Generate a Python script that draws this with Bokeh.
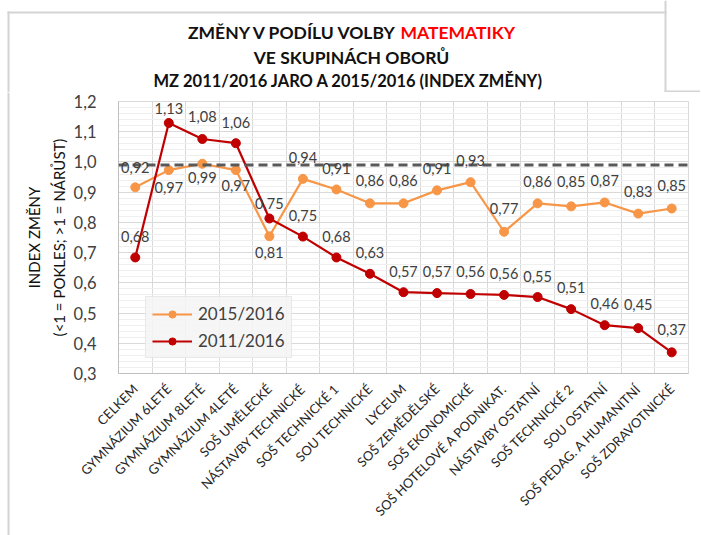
import math
from bokeh.plotting import figure
from bokeh.layouts import column, row
from bokeh.models import (ColumnDataSource, Range1d, FixedTicker, CustomJSTickFormatter,
                          Span, Label, LabelSet, Legend, LegendItem, BoxAnnotation)
from bokeh.core.properties import value
from bokeh.embed import file_html
from bokeh.resources import INLINE

# ---------------- data ----------------
categories = ["CELKEM", "GYMNÁZIUM 6LETÉ", "GYMNÁZIUM 8LETÉ", "GYMNÁZIUM 4LETÉ",
              "SOŠ UMĚLECKÉ", "NÁSTAVBY TECHNICKÉ", "SOŠ TECHNICKÉ 1", "SOU TECHNICKÉ",
              "LYCEUM", "SOŠ ZEMĚDĚLSKÉ", "SOŠ EKONOMICKÉ", "SOŠ HOTELOVÉ A PODNIKAT.",
              "NÁSTAVBY OSTATNÍ", "SOŠ TECHNICKÉ 2", "SOU OSTATNÍ", "SOŠ PEDAG. A HUMANITNÍ",
              "SOŠ ZDRAVOTNICKÉ"]
index_2015_2016 = [0.916, 0.973, 0.994, 0.973, 0.754, 0.944, 0.909, 0.863, 0.863,
                   0.906, 0.933, 0.769, 0.863, 0.853, 0.866, 0.829, 0.846]
index_2011_2016 = [0.684, 1.129, 1.076, 1.062, 0.813, 0.753, 0.684, 0.630, 0.569,
                   0.566, 0.563, 0.560, 0.553, 0.513, 0.460, 0.450, 0.370]
series_names = ["2015/2016", "2011/2016"]
reference_level = 0.99
y_ticks = [0.3, 0.4, 0.5, 0.6, 0.7, 0.8, 0.9, 1.0, 1.1, 1.2]
title_black = "ZMĚNY V PODÍLU VOLBY"
title_red = "MATEMATIKY"
title_line2 = "VE SKUPINÁCH OBORŮ"
title_line3 = "MZ 2011/2016 JARO  A 2015/2016 (INDEX ZMĚNY)"
ylabel_line1 = "INDEX ZMĚNY"
ylabel_line2 = "(<1 = POKLES; >1 = NÁRŮST)"

# ---------------- styles ----------------
label_offset_2015 = [20, -17, -14, -15, 33, 21, 21, 23, 23, 22, 22, 23, 22, 25, 22, 22, 23]
label_offset_2011 = [21, 14, 22, 21, -34, 21, 21, 21, 21, 22, 23, 21, 21, 22, 22, 24, 23]
ORANGE = "#F79646"
RED = "#C00000"
FONT = "Lato"
FRAME = "#d4d4d4"


def fmt(v):
    return f"{v:.2f}".replace(".", ",")


def blank(w, h, xr, yr):
    f = figure(width=w, height=h, output_backend="svg", toolbar_location=None,
               x_range=Range1d(*xr), y_range=Range1d(*yr), x_axis_type=None,
               y_axis_type=None, min_border=0, frame_align=False)
    f.outline_line_color = None
    f.grid.visible = False
    f.background_fill_color = "white"
    f.border_fill_color = "white"
    return f


# ---------------- title strip (data units = page pixels, y up) ----------------
TH = 92
t = blank(700, TH, (0, 700), (0, TH))
tkw = dict(text_font=FONT, text_font_style="bold", text_baseline="middle")
t.add_layout(Label(x=397, y=TH - 32, text=title_black, text_align="right",
                   text_color="#111111", text_font_size="17.5px", **tkw))
t.add_layout(Label(x=400, y=TH - 32, text=title_red, text_align="left",
                   text_color="#FF0000", text_font_size="17.5px", **tkw))
t.add_layout(Label(x=351, y=TH - 57, text=title_line2, text_align="center",
                   text_color="#111111", text_font_size="17.5px", **tkw))
t.add_layout(Label(x=350, y=TH - 80, text=title_line3, text_align="center",
                   text_color="#111111", text_font_size="16.5px", **tkw))
bk = dict(fill_color=FRAME, fill_alpha=1, line_color=None)
t.add_layout(BoxAnnotation(left=7, right=9, top=TH - 11, bottom=0, **bk))
t.add_layout(BoxAnnotation(left=7, right=666, top=TH - 11, bottom=TH - 13, **bk))
t.add_layout(BoxAnnotation(left=664, right=666, top=TH, bottom=0, **bk))
t.add_layout(BoxAnnotation(left=664, right=700, top=2, bottom=0, **bk))

# ---------------- left strip with y-axis title ----------------
MH = 443
s = blank(70, MH, (0, 70), (0, MH))
s.add_layout(BoxAnnotation(left=7, right=9, top=MH, bottom=0, **bk))
ykw = dict(text_font=FONT, text_font_size="15px", text_align="center",
           text_baseline="middle", angle=math.pi / 2, text_color="#111111")
s.add_layout(Label(x=33, y=MH + TH - 237, text=ylabel_line1, **ykw))
s.add_layout(Label(x=58, y=MH + TH - 237, text=ylabel_line2, **ykw))

# ---------------- main chart ----------------
xs = list(range(len(categories)))
src_a = ColumnDataSource(dict(x=xs, y=index_2015_2016,
                              t=[fmt(v) for v in index_2015_2016], off=label_offset_2015))
src_b = ColumnDataSource(dict(x=xs, y=index_2011_2016,
                              t=[fmt(v) for v in index_2011_2016], off=label_offset_2011))

p = figure(width=630, height=MH, output_backend="svg", toolbar_location=None,
           x_range=Range1d(-0.5, len(categories) - 0.5), y_range=Range1d(0.3, 1.2),
           min_border_left=44, min_border_right=12, min_border_top=9, min_border_bottom=162,
           frame_align=False)
p.background_fill_color = "white"
p.border_fill_color = "white"
p.outline_line_color = "#d9d9d9"

p.xgrid.ticker = FixedTicker(ticks=[i - 0.5 for i in range(len(categories) + 1)])
p.xgrid.grid_line_color = "#d9d9d9"
minor = [round(0.3 + 0.02 * i, 2) for i in range(46)]
p.yaxis.ticker = FixedTicker(ticks=y_ticks, minor_ticks=minor)
p.ygrid.grid_line_color = "#d9d9d9"
p.ygrid.minor_grid_line_color = "#efefef"

p.xaxis.ticker = FixedTicker(ticks=xs)
p.xaxis.major_label_overrides = {i: c for i, c in enumerate(categories)}
p.xaxis.major_label_orientation = math.pi / 4
p.xaxis.major_label_text_font = FONT
p.xaxis.major_label_text_font_size = "13px"
p.xaxis.major_label_text_color = "#262626"
p.xaxis.major_label_standoff = 7
p.yaxis.formatter = CustomJSTickFormatter(code="return tick.toFixed(1).replace('.', ',');")
p.yaxis.major_label_text_font = FONT
p.yaxis.major_label_text_font_size = "16.5px"
p.yaxis.major_label_text_color = "#404040"
p.yaxis.major_label_standoff = 16
for ax in (p.xaxis, p.yaxis):
    ax.axis_line_color = "#bfbfbf"
    ax.major_tick_line_color = None
    ax.minor_tick_line_color = None

la = p.line("x", "y", source=src_a, line_color=ORANGE, line_width=2.2)
sa = p.scatter("x", "y", source=src_a, size=9, fill_color=ORANGE, line_color=ORANGE)
lb = p.line("x", "y", source=src_b, line_color=RED, line_width=2.2)
sb = p.scatter("x", "y", source=src_b, size=9, fill_color=RED, line_color=RED)

p.add_layout(Span(location=reference_level, dimension="width", line_color="#595959",
                  line_width=3, line_dash="9 5"))

for src in (src_a, src_b):
    p.add_layout(LabelSet(x="x", y="y", text="t", y_offset="off", source=src,
                          text_align="center", text_baseline="middle",
                          text_font=value(FONT), text_font_size="14.5px", text_color="#404040"))

legend = Legend(items=[LegendItem(label=series_names[0], renderers=[la, sa]),
                       LegendItem(label=series_names[1], renderers=[lb, sb])],
                location=(27, 15), label_text_font=FONT, label_text_font_size="17px",
                label_text_color="#404040", glyph_width=40, glyph_height=18,
                label_height=18, spacing=6, padding=6, label_standoff=6,
                border_line_color="#d9d9d9", background_fill_color="#f4f4f4",
                background_fill_alpha=0.85, margin=0)
p.add_layout(legend)

layout = column(t, row(s, p, spacing=0), spacing=0)
open("out.html", "w").write(file_html(layout, INLINE))
